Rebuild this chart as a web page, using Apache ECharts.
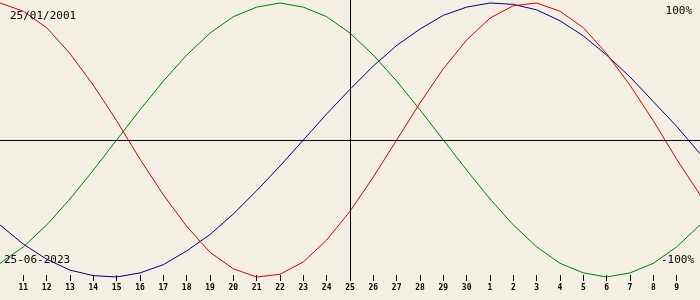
<!DOCTYPE html>
<html>
<head>
<meta charset="utf-8">
<script src="https://cdn.jsdelivr.net/npm/echarts@6/dist/echarts.min.js"></script>
<style>
html,body{margin:0;padding:0;background:#f3efe3;}
#chart{width:700px;height:300px;}
</style>
</head>
<body>
<div id="chart"></div>
<script>
// Day labels: index 0 = 10 June ... index 30 = 10 July
const dayLabels = ["10","11","12","13","14","15","16","17","18","19","20","21","22","23","24","25","26","27","28","29","30","1","2","3","4","5","6","7","8","9","10"];
// Values (%) read at each day
const physical = [100,94,82,63,40,14,-14,-40,-63,-82,-94,-100,-98,-89,-73,-52,-27,0,27,52,73,89,98,100,94,82,63,40,14,-14,-40];
const emotional = [-90,-78,-62,-43,-22,0,22,43,62,78,90,97,100,97,90,78,62,43,22,0,-22,-43,-62,-78,-90,-97,-100,-97,-90,-78,-62];
const intellectual = [-62,-76,-87,-95,-99,-100,-97,-91,-81,-69,-54,-37,-19,0,19,37,54,69,81,91,97,100,99,95,87,76,62,46,28,10,-10];
const birthDate = "25/01/2001";
const currentDate = "25-06-2023";
const centerIndex = 15;

const chart = echarts.init(document.getElementById('chart'), null, {renderer:'canvas'});
const toPts = arr => arr.map((v,i)=>[i,v]);
const mkSeries = (name, data, color) => ({
  name, type:'line', data: toPts(data), symbol:'none', smooth:false,
  lineStyle:{color, width:1}, silent:true, animation:false, clip:false, z:3
});
const font = '"DejaVu Sans Mono", "Liberation Mono", monospace';
chart.setOption({
  backgroundColor:'#f3efe3',
  animation:false,
  grid:{left:0, right:0, top:0, bottom:19},
  xAxis:{
    type:'value', min:0, max:30, interval:1,
    axisLine:{show:false, onZero:false},
    splitLine:{show:false},
    axisTick:{show:true, inside:true, length:6, lineStyle:{color:'#000', width:1}},
    axisLabel:{show:true, margin:3, showMinLabel:false, showMaxLabel:false,
      color:'#000', fontFamily:font, fontSize:8, fontWeight:'bold',
      formatter: v => dayLabels[v]}
  },
  yAxis:{
    type:'value', min:-102.92, max:102.19,
    show:false, splitLine:{show:false}
  },
  series:[
    {
      type:'line', data:[], silent:true, z:2,
      markLine:{
        silent:true, symbol:'none', animation:false,
        label:{show:false},
        lineStyle:{color:'#000', width:1, type:'solid'},
        data:[{yAxis:0},{xAxis:centerIndex}]
      }
    },
    mkSeries('Intellectual', intellectual, '#000080'),
    mkSeries('Emotional', emotional, '#008000'),
    mkSeries('Physical', physical, '#dd0000')
  ],
  graphic:[
    {type:'text', left:10, top:11, z:10, style:{text:birthDate, font:'11px '+font, fill:'#000'}},
    {type:'text', right:8, top:6, z:10, style:{text:'100%', font:'11px '+font, fill:'#000'}},
    {type:'text', left:4, top:255, z:10, style:{text:currentDate, font:'11px '+font, fill:'#000'}},
    {type:'text', right:6, top:255, z:10, style:{text:'-100%', font:'11px '+font, fill:'#000'}}
  ]
});
</script>
</body>
</html>
